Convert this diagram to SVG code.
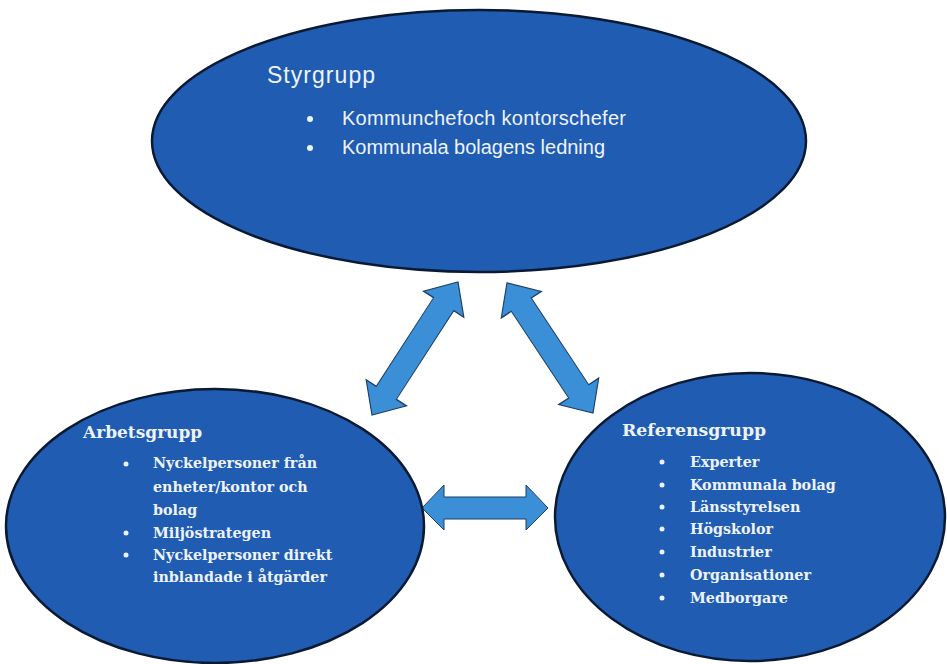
<svg xmlns="http://www.w3.org/2000/svg" width="947" height="664" viewBox="0 0 947 664">
<defs>
<style>
.node{fill:#1f5cb2;stroke:#0b1a33;stroke-width:2.5}
.arrow{fill:#3a8fd6;stroke:#1d3f66;stroke-width:1}
.t1{font-family:"Liberation Sans",Arial,sans-serif;fill:#eef3fb}
.t2{font-family:"DejaVu Serif","Liberation Serif",serif;font-weight:bold;fill:#eef3fb}
.b{fill:#eef3fb}
</style>
</defs>
<rect width="947" height="664" fill="#ffffff"/>
<g id="connectors">
<path class="arrow" transform="translate(415,348.5) rotate(-57.1) scale(1.32,1)" d="M-60,0 L-40,-24 L-40,-12 L40,-12 L40,-24 L60,0 L40,24 L40,12 L-40,12 L-40,24 Z"/>
<path class="arrow" transform="translate(550,348) rotate(56.5) scale(1.3,1)" d="M-60,0 L-40,-24 L-40,-12 L40,-12 L40,-24 L60,0 L40,24 L40,12 L-40,12 L-40,24 Z"/>
<path class="arrow" d="M422,508 L444,485 L444,497 L526,497 L526,485 L548,508 L526,530 L526,519 L444,519 L444,530 Z"/>
</g>
<g id="styrgrupp">
<ellipse class="node" cx="479" cy="141" rx="327" ry="131"/>
<text class="t1" x="267" y="83" font-size="23" textLength="108" lengthAdjust="spacing">Styrgrupp</text>
<circle class="b" cx="310" cy="119" r="3"/>
<circle class="b" cx="310" cy="148" r="3"/>
<text class="t1" x="342" y="125" font-size="20" textLength="284" lengthAdjust="spacing">Kommunchefoch kontorschefer</text>
<text class="t1" x="342" y="154" font-size="20" textLength="263" lengthAdjust="spacing">Kommunala bolagens ledning</text>
</g>
<g id="arbetsgrupp">
<ellipse class="node" cx="215" cy="526" rx="209" ry="137"/>
<text class="t2" x="83" y="438" font-size="17">Arbetsgrupp</text>
<g class="t2" font-size="14.3">
<circle class="b" cx="126" cy="464" r="2.5"/>
<text x="153" y="468">Nyckelpersoner från</text>
<text x="153" y="492">enheter/kontor och</text>
<text x="153" y="515">bolag</text>
<circle class="b" cx="126" cy="533" r="2.5"/>
<text x="153" y="538">Miljöstrategen</text>
<circle class="b" cx="126" cy="555" r="2.5"/>
<text x="153" y="560">Nyckelpersoner direkt</text>
<text x="153" y="582">inblandade i åtgärder</text>
</g>
</g>
<g id="referensgrupp">
<ellipse class="node" cx="750" cy="517" rx="195" ry="144"/>
<text class="t2" x="622" y="436" font-size="17.3">Referensgrupp</text>
<g class="t2" font-size="14.3">
<circle class="b" cx="662" cy="462" r="2.5"/>
<text x="690" y="467">Experter</text>
<circle class="b" cx="662" cy="485" r="2.5"/>
<text x="690" y="490">Kommunala bolag</text>
<circle class="b" cx="662" cy="507" r="2.5"/>
<text x="690" y="512">Länsstyrelsen</text>
<circle class="b" cx="662" cy="529" r="2.5"/>
<text x="690" y="534">Högskolor</text>
<circle class="b" cx="662" cy="552" r="2.5"/>
<text x="690" y="557">Industrier</text>
<circle class="b" cx="662" cy="575" r="2.5"/>
<text x="690" y="580">Organisationer</text>
<circle class="b" cx="662" cy="598" r="2.5"/>
<text x="690" y="603">Medborgare</text>
</g>
</g>
</svg>
